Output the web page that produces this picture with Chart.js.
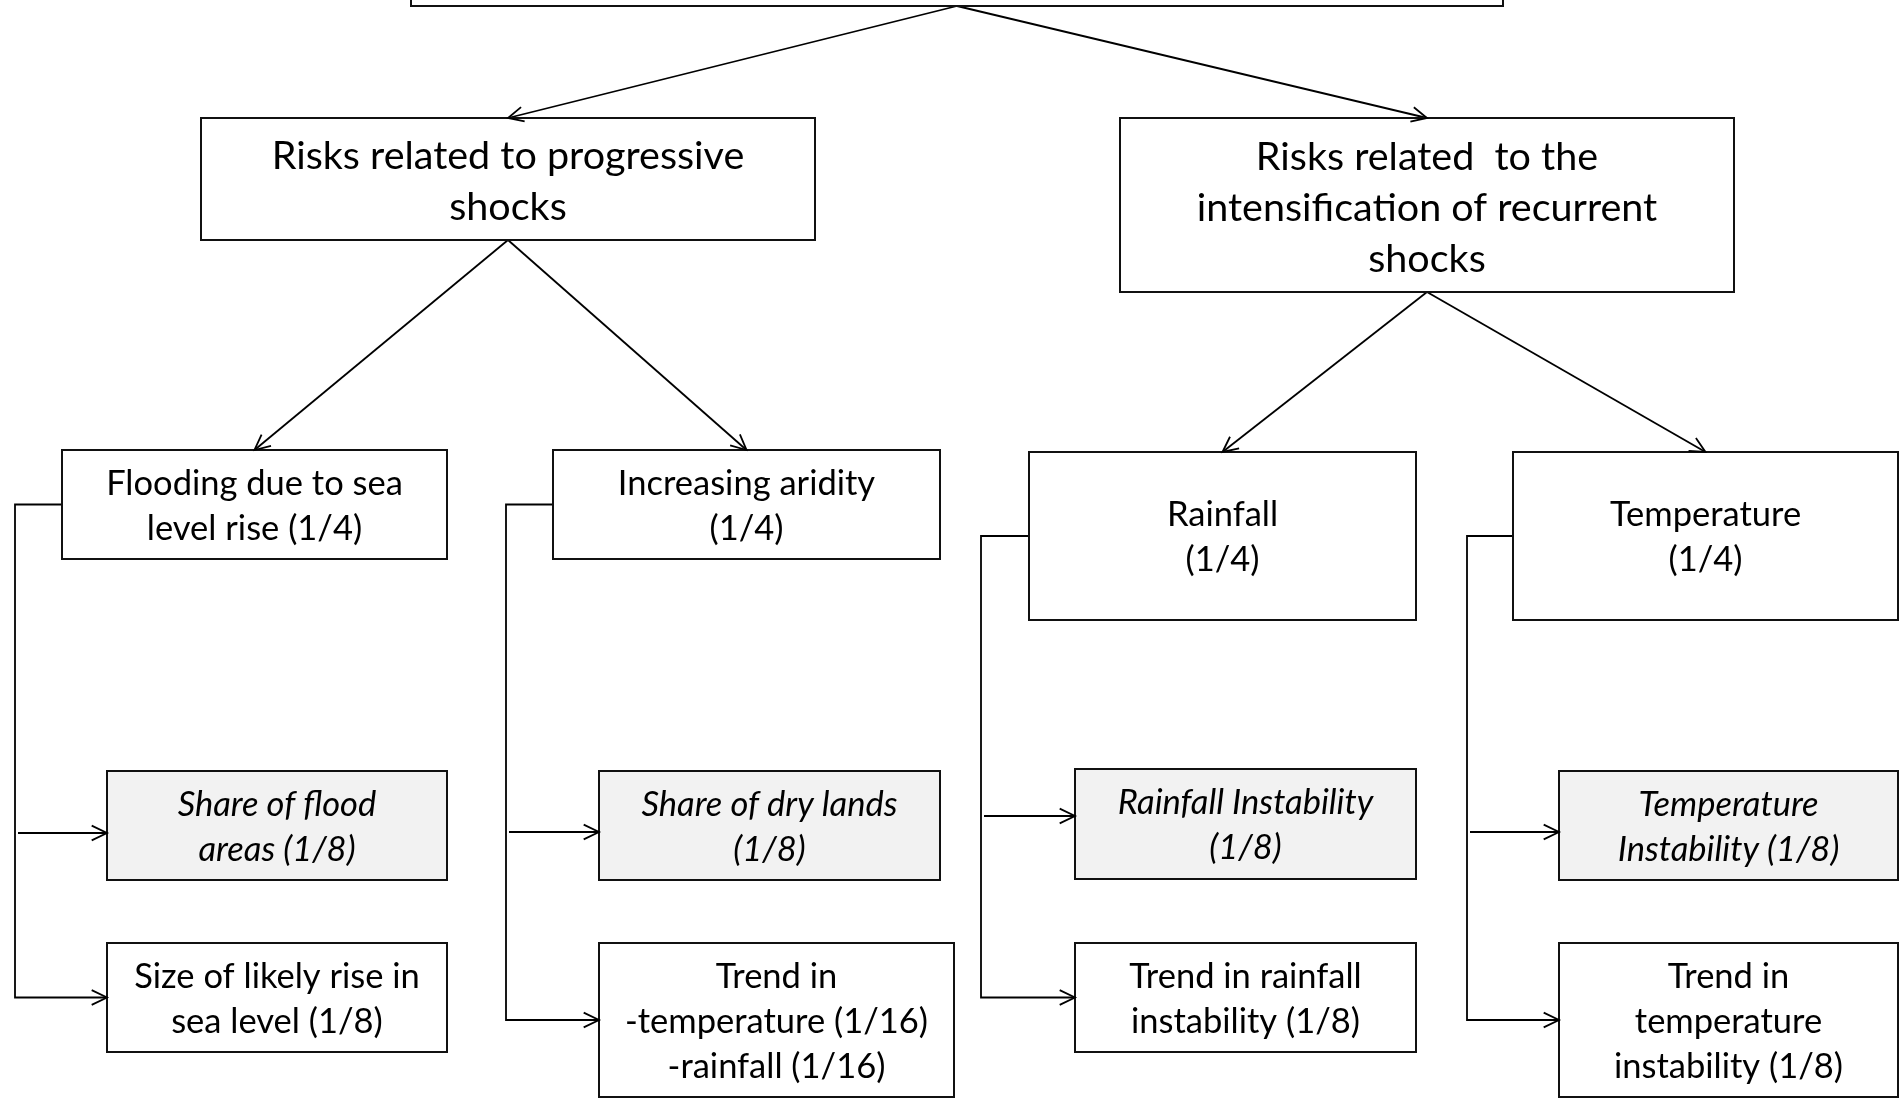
<!DOCTYPE html>
<html>
<head>
<meta charset="utf-8">
<script src="https://cdn.jsdelivr.net/npm/chart.js@4.4.1/dist/chart.umd.min.js"></script>
<style>
  html, body { margin: 0; padding: 0; background: #fff; }
  #tree { display: block; }
</style>
</head>
<body>
<canvas id="tree" width="1901" height="1098"></canvas>
<script>
// node texts (one entry per line), parents and which ones are the shaded "proxy" boxes
const nodeLines = [
  [],
  ["Risks related to progressive", "shocks"],
  ["Risks related  to the", "intensification of recurrent", "shocks"],
  ["Flooding due to sea", "level rise (1/4)"],
  ["Increasing aridity", "(1/4)"],
  ["Rainfall", "(1/4)"],
  ["Temperature", "(1/4)"],
  ["Share of flood", "areas (1/8)"],
  ["Size of likely rise in", "sea level (1/8)"],
  ["Share of dry lands", "(1/8)"],
  ["Trend in", "-temperature (1/16)", "-rainfall (1/16)"],
  ["Rainfall Instability", "(1/8)"],
  ["Trend in rainfall", "instability (1/8)"],
  ["Temperature", "Instability (1/8)"],
  ["Trend in", "temperature", "instability (1/8)"]
];
const nodeParents = [-1, 0, 0, 1, 1, 2, 2, 3, 3, 4, 4, 5, 5, 6, 6];
const nodeProxy = [false, false, false, false, false, false, false, true, false, true, false, true, false, true, false];

// layout of the boxes [x0, x1, y0, y1] in canvas units
const boxes = [
  [411, 1503, -40, 6],
  [201, 815, 118, 240],
  [1120, 1734, 118, 292],
  [62, 447, 450, 559],
  [553, 940, 450, 559],
  [1029, 1416, 452, 620],
  [1513, 1898, 452, 620],
  [107, 447, 771, 880],
  [107, 447, 943, 1052],
  [599, 940, 771, 880],
  [599, 954, 943, 1097],
  [1075, 1416, 769, 879],
  [1075, 1416, 943, 1052],
  [1559, 1898, 771, 880],
  [1559, 1898, 943, 1097]
];
// elbow connector x for the level-3 nodes, and arrow heights into the first child
const elbowX = {3: 15, 4: 506, 5: 981, 6: 1467};
const firstArrowY = {7: 833, 9: 832, 11: 816, 13: 832};

const FONT = "Lato";
const ink = "#000";
// bigger text in the two level-1 boxes
const fontSize = (i) => (i <= 2 ? 39.5 : 34.5);
const lineH = (i) => (i <= 2 ? 51 : 45);
const textShift = (i) => (i <= 2 ? 3 : 1.5);

const mid = (b) => [(b[0] + b[1]) / 2, (b[2] + b[3]) / 2];

// build the connector lines
const edges = [];
const heads = [];
nodeParents.forEach((p, i) => {
  if (p < 0) return;
  const pb = boxes[p], cb = boxes[i];
  if (p <= 2) {
    // straight arrow from bottom centre to top centre
    const from = {x: mid(pb)[0], y: pb[3]};
    const to = {x: mid(cb)[0], y: cb[2]};
    edges.push([from, to]);
    heads.push([from, to]);
  } else {
    const ex = elbowX[p];
    const y = firstArrowY[i] !== undefined ? firstArrowY[i] : mid(cb)[1];
    const isLast = nodeParents.lastIndexOf(p) === i;
    if (isLast) {
      edges.push([{x: pb[0], y: mid(pb)[1]}, {x: ex, y: mid(pb)[1]}, {x: ex, y: y}, {x: cb[0], y: y}]);
    } else {
      edges.push([{x: ex + 3, y: y}, {x: cb[0], y: y}]);
    }
    heads.push([{x: ex, y: y}, {x: cb[0], y: y}]);
  }
});

const datasets = edges.map(pts => ({
  data: pts,
  showLine: true,
  borderColor: ink,
  borderWidth: 1.8,
  pointRadius: 0,
  fill: false,
  tension: 0
}));

const boxPlugin = {
  id: 'boxes',
  afterDatasetsDraw(chart) {
    const c = chart.ctx;
    const xs = chart.scales.x, ys = chart.scales.y;
    c.save();
    boxes.forEach((b, i) => {
      const x0 = xs.getPixelForValue(b[0]), x1 = xs.getPixelForValue(b[1]);
      const y0 = ys.getPixelForValue(b[2]), y1 = ys.getPixelForValue(b[3]);
      c.fillStyle = nodeProxy[i] ? "#f2f2f2" : "#fff";
      c.fillRect(x0, y0, x1 - x0, y1 - y0);
      c.strokeStyle = "#111";
      c.lineWidth = 2;
      c.strokeRect(x0, y0, x1 - x0, y1 - y0);
      const lines = nodeLines[i];
      c.fillStyle = ink;
      c.textAlign = "center";
      c.textBaseline = "middle";
      c.font = (nodeProxy[i] ? "italic " : "") + fontSize(i) + "px " + FONT;
      const cx = (x0 + x1) / 2, cy = (y0 + y1) / 2 + textShift(i);
      lines.forEach((t, k) => {
        c.fillText(t, cx, cy + (k - (lines.length - 1) / 2) * lineH(i));
      });
    });
    // open arrow heads
    c.strokeStyle = ink;
    c.lineWidth = 1.8;
    heads.forEach(([a, b]) => {
      const ax = xs.getPixelForValue(a.x), ay = ys.getPixelForValue(a.y);
      const bx = xs.getPixelForValue(b.x), by = ys.getPixelForValue(b.y);
      const ang = Math.atan2(by - ay, bx - ax);
      const L = 17, spread = 0.45;
      c.beginPath();
      c.moveTo(bx - L * Math.cos(ang - spread), by - L * Math.sin(ang - spread));
      c.lineTo(bx, by);
      c.lineTo(bx - L * Math.cos(ang + spread), by - L * Math.sin(ang + spread));
      c.stroke();
    });
    c.restore();
  }
};

new Chart(document.getElementById("tree"), {
  type: 'scatter',
  data: {datasets: datasets},
  options: {
    responsive: false,
    animation: false,
    layout: {padding: 0},
    plugins: {legend: {display: false}, tooltip: {enabled: false}},
    scales: {
      x: {type: 'linear', min: 0, max: 1901, display: false},
      y: {type: 'linear', min: 0, max: 1098, reverse: true, display: false}
    }
  },
  plugins: [boxPlugin]
});
</script>
</body>
</html>
